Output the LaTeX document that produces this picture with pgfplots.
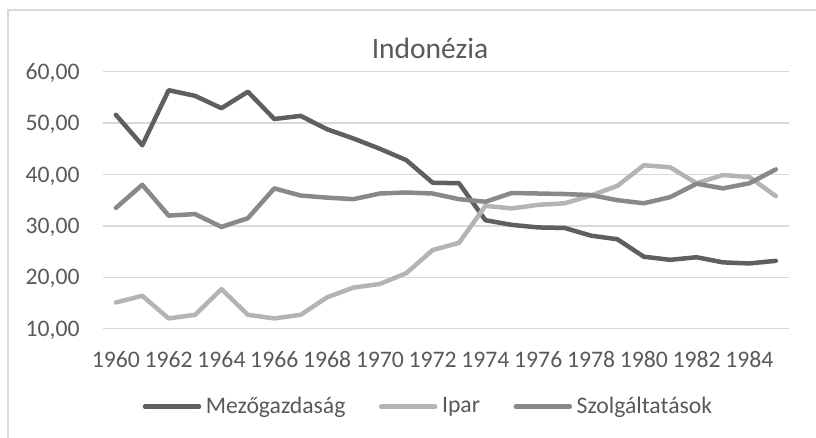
\documentclass[border=0pt]{standalone}
\usepackage{fontspec}
\setmainfont{Carlito}
\usepackage{pgfplots}
\usepackage{pgfplotstable}
\pgfplotsset{compat=1.18}
\definecolor{cMez}{HTML}{5F5F5F}
\definecolor{cIpar}{HTML}{B4B4B4}
\definecolor{cSzol}{HTML}{898989}
\definecolor{cGrid}{HTML}{D9D9D9}
\definecolor{cText}{HTML}{595959}

\pgfplotstableread{
year mez ipar szol
1960 51.6 15.1 33.5
1961 45.7 16.4 38.0
1962 56.4 12.0 32.0
1963 55.3 12.7 32.3
1964 52.9 17.7 29.8
1965 56.1 12.7 31.5
1966 50.8 12.0 37.3
1967 51.4 12.7 35.9
1968 48.8 16.1 35.5
1969 47.0 18.0 35.2
1970 45.0 18.7 36.3
1971 42.8 20.8 36.5
1972 38.4 25.3 36.3
1973 38.3 26.7 35.2
1974 31.1 33.9 34.7
1975 30.2 33.4 36.4
1976 29.7 34.1 36.3
1977 29.6 34.4 36.2
1978 28.1 35.9 36.0
1979 27.4 37.8 35.0
1980 24.0 41.8 34.4
1981 23.4 41.4 35.6
1982 23.9 38.3 38.2
1983 22.9 39.9 37.3
1984 22.7 39.5 38.3
1985 23.2 35.8 41.0
}\datatable

\begin{document}
\begin{tikzpicture}
\useasboundingbox (0,0) rectangle (408pt,219pt);
\draw[cGrid, line width=0.65pt] (4pt,-5pt) -- (4pt,214pt) -- (415pt,214pt);
\begin{axis}[
  at={(51.35pt,54.65pt)}, anchor=south west,
  scale only axis, width=343.15pt, height=128.5pt,
  xmin=1959.5, xmax=1985.5, ymin=10, ymax=60,
  xtick={1960,1962,...,1984},
  xticklabels={1960,1962,1964,1966,1968,1970,1972,1974,1976,1978,1980,1982,1984},
  ytick={10,20,30,40,50,60},
  yticklabels={{10,00},{20,00},{30,00},{40,00},{50,00},{60,00}},
  axis line style={draw=none},
  major tick length=0pt,
  ymajorgrids, grid style={cGrid, line width=0.65pt},
  tick label style={font=\fontsize{11.85}{14}\selectfont, text=cText, inner sep=0pt},
  yticklabel style={anchor=base east, xshift=-11.35pt, yshift=-3.75pt},
  xticklabel style={anchor=base, yshift=-19.65pt},
  clip=false,
  legend columns=3,
  legend style={at={(axis description cs:0.0583,-0.3035)}, anchor=west,
    draw=none, fill=none, inner sep=0pt, outer sep=0pt,
    font=\fontsize{11.85}{14}\selectfont, text=cText,
    nodes={inner sep=0pt},
    /tikz/every odd column/.append style={column sep=2.3pt},
    /tikz/every even column/.append style={column sep=16.75pt}},
  legend image code/.code={\path (0pt,0pt) -- (27pt,0pt); \draw[#1, line cap=round, line width=2.25pt] (1.125pt,0pt) -- (25.875pt,0pt);},
  every axis plot/.append style={line width=2.25pt, line join=round, line cap=round, no marks},
]
\addplot[cMez] table[x=year, y=mez] {\datatable};
\addlegendentry{Mezőgazdaság}
\addplot[cIpar] table[x=year, y=ipar] {\datatable};
\addlegendentry{Ipar}
\addplot[cSzol] table[x=year, y=szol] {\datatable};
\addlegendentry{Szolgáltatások}
\end{axis}
\node[anchor=base, font=\fontsize{14.75}{17}\selectfont, text=cText, inner sep=0pt] at (215pt,189.85pt) {Indonézia};
\end{tikzpicture}
\end{document}
